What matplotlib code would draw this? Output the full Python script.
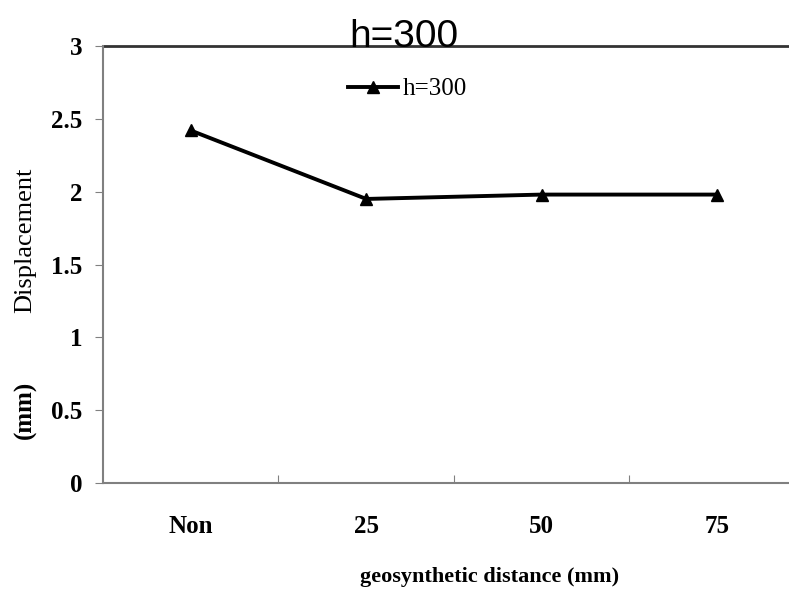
import matplotlib.pyplot as plt

categories = ["Non", "25", "50", "75"]
displacement = [2.42, 1.95, 1.98, 1.98]
yticks = [0, 0.5, 1, 1.5, 2, 2.5, 3]
ytick_labels = ["0", "0.5", "1", "1.5", "2", "2.5", "3"]

W, H = 789, 592
fig = plt.figure(figsize=(W / 100, H / 100), dpi=100)
# plot area runs past the right edge of the picture, as in the reference
ax = fig.add_axes([103 / W, (H - 483) / H, (805 - 103) / W, (483 - 46) / H])

x = list(range(len(categories)))
ax.plot(x, displacement, color="black", lw=2.8, marker="^", markersize=8,
        label="h=300")

ax.set_xlim(-0.5, len(categories) - 0.5)
ax.set_ylim(0, 3)

for s in ["top", "right"]:
    ax.spines[s].set_visible(False)
for s in ["left", "bottom"]:
    ax.spines[s].set_color("#808080")
    ax.spines[s].set_linewidth(1.5)
ax.axhline(3, color="#333333", lw=2, clip_on=False)

serif = "Liberation Serif"
ax.set_yticks(yticks)
ax.set_yticklabels(ytick_labels, fontfamily=serif, fontweight="bold", fontsize=18)
ax.tick_params(axis="y", direction="out", length=6, color="#808080", pad=9)

ax.set_xticks([i + 0.5 for i in x[:-1]])
ax.set_xticklabels([])
ax.tick_params(axis="x", which="major", direction="in", length=6, color="#808080")
ax.set_xticks(x, minor=True)
ax.set_xticklabels(categories, minor=True, fontfamily=serif, fontweight="bold",
                   fontsize=18)
ax.tick_params(axis="x", which="minor", length=0, pad=23)

fig.text(404 / W, 1 - 47 / H, "h=300", fontfamily="Liberation Sans",
         fontsize=28, ha="center", va="baseline")

fig.text(25 / W, 1 - 410 / H, "(mm)", rotation=90, fontfamily=serif,
         fontweight="bold", fontsize=18, ha="center", va="center")
fig.text(25 / W, 1 - 240 / H, "Displacement", rotation=90, fontfamily=serif,
         fontsize=19, ha="center", va="center")
fig.text(490 / W, 1 - 577 / H, "geosynthetic distance (mm)", fontfamily=serif,
         fontweight="bold", fontsize=16, ha="center", va="center")

fig.legend(loc="center left", bbox_to_anchor=(348 / W, 1 - 89 / H),
           frameon=False, borderaxespad=0, borderpad=0, handlelength=2.0,
           handletextpad=0.2, prop={"family": serif, "size": 18})

fig.savefig("out.png", dpi=100)
